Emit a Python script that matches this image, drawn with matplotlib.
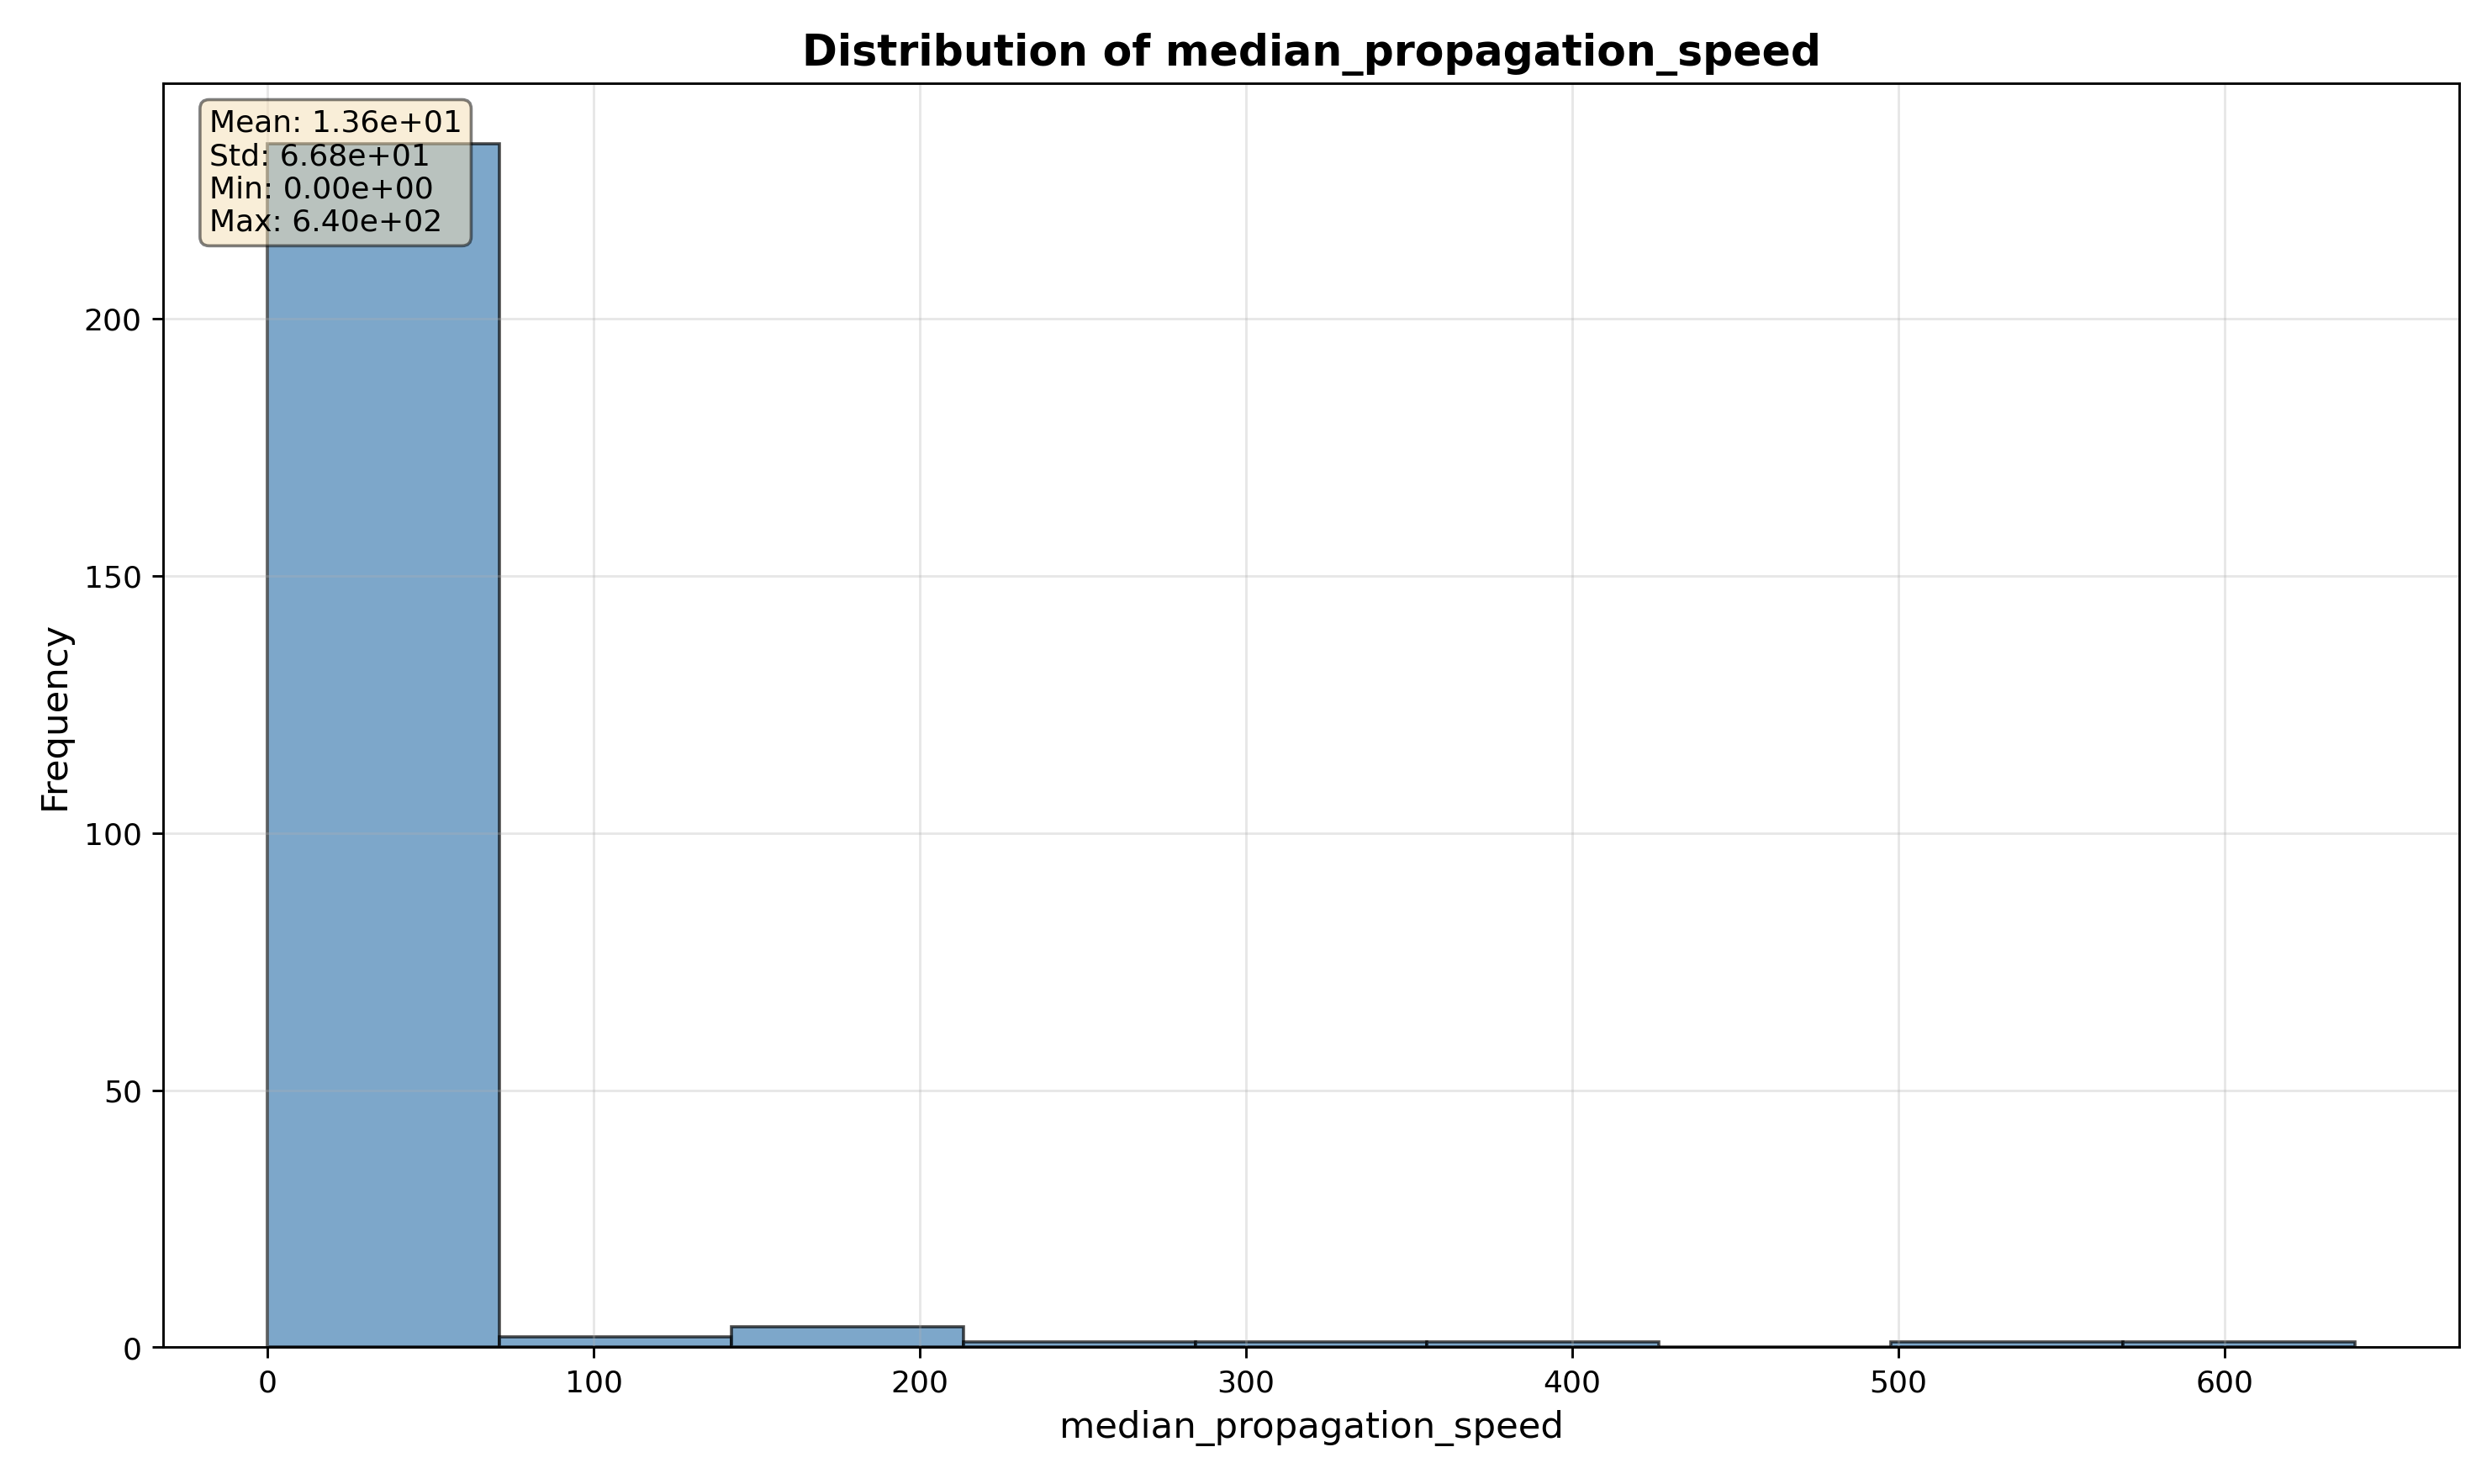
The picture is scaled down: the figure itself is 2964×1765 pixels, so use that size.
import numpy as np
import matplotlib
matplotlib.use("Agg")
import matplotlib.pyplot as plt

# histogram of median_propagation_speed
bin_min = 0.0
bin_max = 640.0
counts = [234, 2, 4, 1, 1, 1, 0, 1, 1]
stats_text = "Mean: 1.36e+01\nStd: 6.68e+01\nMin: 0.00e+00\nMax: 6.40e+02"
col = "median_propagation_speed"

edges = np.linspace(bin_min, bin_max, len(counts) + 1)
widths = np.diff(edges)

fig, ax = plt.subplots(figsize=(11.4, 6.79))
ax.bar(edges[:-1], counts, width=widths, align="edge",
       color="steelblue", alpha=0.7, edgecolor="black", linewidth=1)
ax.set_title(f"Distribution of {col}", fontsize=14, weight="bold")
ax.set_xlabel(col, fontsize=12)
ax.set_ylabel("Frequency", fontsize=12)
ax.grid(True, alpha=0.3)
ax.text(0.02, 0.98, stats_text, transform=ax.transAxes, va="top", fontsize=10,
        bbox=dict(boxstyle="round", facecolor="wheat", alpha=0.5))
plt.tight_layout()
plt.savefig("out.png", dpi=260)
